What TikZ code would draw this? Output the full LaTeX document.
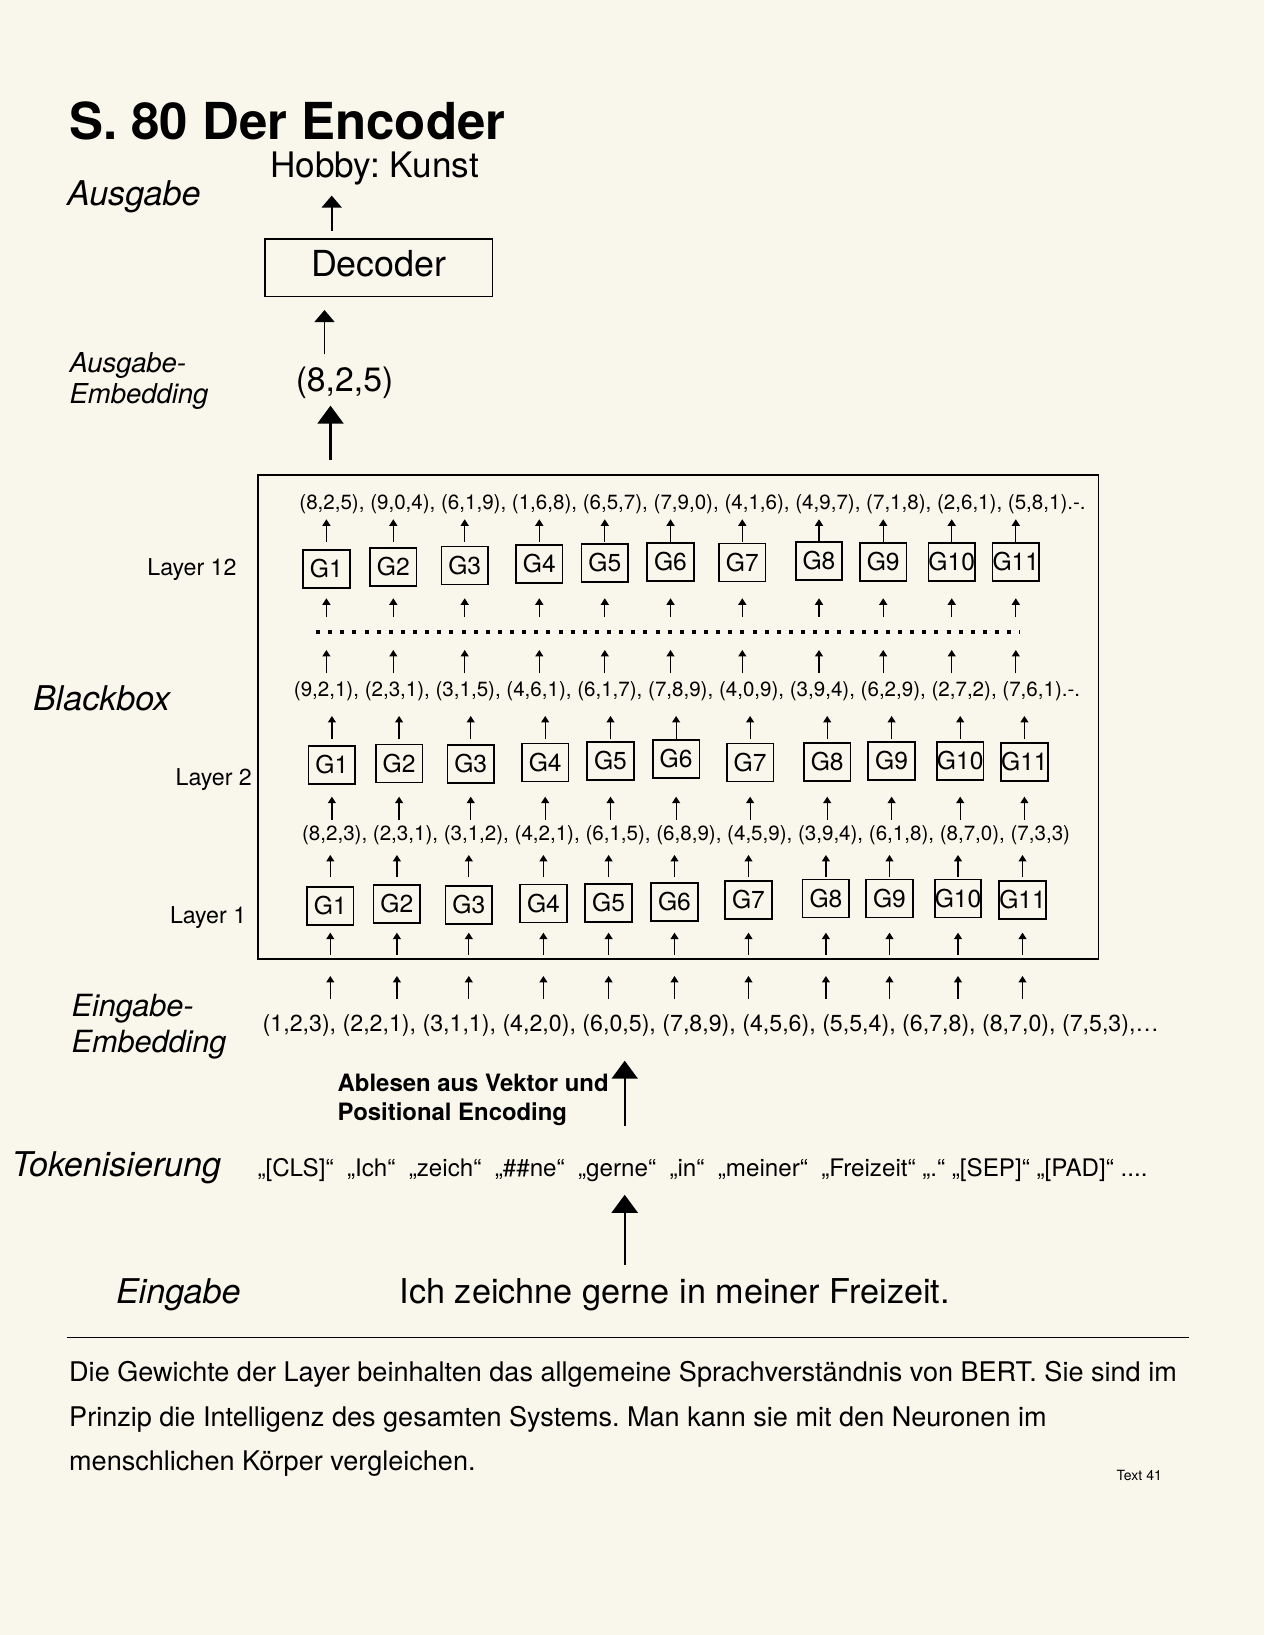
\documentclass[tikz,border=0pt]{standalone}
\usepackage{fontspec}
\setmainfont{TeX Gyre Heros}
\usepackage{tikz}
\usetikzlibrary{arrows.meta}
\definecolor{papier}{RGB}{249,247,236}
\frenchspacing

\begin{document}
\begin{tikzpicture}

			\tikzstyle{gewicht} = [draw,line width=0.5pt,minimum width=0.466cm,minimum height=0.38cm,inner sep=0,font=\fontsize{7}{8}\selectfont]
			\tikzstyle{tupel} = [anchor=west,inner sep=0,font=\fontsize{5.85}{7}\selectfont]
			\tikzstyle{etikett} = [anchor=west,inner sep=0,font=\fontsize{9.7}{11}\selectfont\itshape]
			\tikzstyle{schicht} = [anchor=west,inner sep=0,font=\fontsize{6.6}{8}\selectfont]
			\tikzstyle{pfeil} = [-{Triangle[width=0.8mm,length=0.65mm]},line width=0.35pt]
			\tikzstyle{pfeilmittel} = [-{Triangle[width=2mm,length=1.2mm]},line width=0.5pt]
			\tikzstyle{pfeilgross} = [-{Triangle[width=2.6mm,length=1.8mm]},line width=0.6pt]

			\useasboundingbox (0,0) rectangle (12.64,16.35);
			\fill[papier] (0,0) rectangle (12.64,16.35);

			% Kopf
			\node[anchor=base west,inner sep=0,font=\fontsize{14.5}{17}\selectfont\bfseries] (titel) at (0.685,14.95) {S. 80 Der Encoder};
			\node[inner sep=0,font=\fontsize{10}{12}\selectfont] (hobby) at (3.745,14.667) {Hobby: Kunst};
			\node[etikett] (ausgabe) at (0.665,14.383) {Ausgabe};
			\node[draw,line width=0.45pt,minimum width=2.275cm,minimum height=0.557cm,text depth=0.8mm,font=\fontsize{10.2}{12}\selectfont] (dec) at (3.788,13.672) {Decoder};
			\node[inner sep=0,font=\fontsize{9.6}{11}\selectfont] (k825) at (3.445,12.52) {(8,2,5)};
			\node[anchor=west,inner sep=0,align=left,font=\fontsize{7.8}{9}\selectfont\itshape] (ausemb) at (0.69,12.54) {Ausgabe-\\Embedding};

			\draw[pfeilmittel,shorten <=0.73mm,shorten >=1mm] (dec.north -| 3.317,0) -- (hobby.south -| 3.317,0);
			\draw[pfeilmittel,shorten <=1.2mm,shorten >=1.27mm] (k825.north -| 3.245,0) -- (dec.south -| 3.245,0);

			% Blackbox
			\node[draw,line width=0.45pt,minimum width=8.405cm,minimum height=4.84cm,inner sep=0] (rahmen) at (6.7825,9.18) {};
			\draw[pfeilgross,shorten <=1.4mm,shorten >=0.61mm] (rahmen.north -| 3.305,0) -- (k825.south -| 3.305,0);
			\node[etikett] (blackbox) at (0.323,9.367) {Blackbox};

			\node[schicht] (schicht12) at (1.467,10.657) {Layer 12};
			\node[schicht] (schicht2) at (1.75,8.557) {Layer 2};
			\node[schicht] (schicht1) at (1.693,7.173) {Layer 1};

			\node[tupel] (aus12) at (2.987,11.31) {(8,2,5), (9,0,4), (6,1,9), (1,6,8), (6,5,7), (7,9,0), (4,1,6), (4,9,7), (7,1,8), (2,6,1), (5,8,1).-.};
			\node[tupel] (aus2) at (2.932,9.433) {(9,2,1), (2,3,1), (3,1,5), (4,6,1), (6,1,7), (7,8,9), (4,0,9), (3,9,4), (6,2,9), (2,7,2), (7,6,1).-.};
			\node[tupel] (aus1) at (3.014,8.00) {(8,2,3), (2,3,1), (3,1,2), (4,2,1), (6,1,5), (6,8,9), (4,5,9), (3,9,4), (6,1,8), (8,7,0), (7,3,3)};

			\foreach \i/\x/\y in {1/3.264/10.661,2/3.933/10.68,3/4.647/10.695,4/5.393/10.71,5/6.048/10.72,6/6.705/10.73,7/7.423/10.725,8/8.19/10.74,9/8.832/10.73,10/9.517/10.73,11/10.158/10.73}
				\node[gewicht] (l12g\i) at (\x,\y) {\makebox[0pt]{G\i}};
			\foreach \i/\x/\y in {1/3.319/8.70,2/3.991/8.715,3/4.707/8.71,4/5.452/8.725,5/6.105/8.74,6/6.761/8.76,7/7.501/8.725,8/8.272/8.733,9/8.916/8.74,10/9.602/8.74,11/10.244/8.73}
				\node[gewicht] (l2g\i) at (\x,\y) {\makebox[0pt]{G\i}};
			\foreach \i/\x/\y in {1/3.303/7.29,2/3.969/7.31,3/4.688/7.30,4/5.434/7.315,5/6.086/7.32,6/6.745/7.33,7/7.485/7.35,8/8.259/7.365,9/8.895/7.365,10/9.58/7.365,11/10.225/7.35}
				\node[gewicht] (l1g\i) at (\x,\y) {\makebox[0pt]{G\i}};

			% Punktlinie zwischen Layer 2 und Layer 12
			\draw[line width=1.15pt,dash pattern=on 1.15pt off 2.3pt] (3.16,10.033) -- (10.2,10.033);

			\foreach \i in {1,...,11} {
				\draw[pfeil] (l12g\i |- 0,10.933) -- ++(0,0.224);
				\draw[pfeil] (l12g\i |- 0,10.183) -- ++(0,0.184);
				\draw[pfeil] (l12g\i |- 0,9.617) -- ++(0,0.233);
				\draw[pfeil] (l2g\i |- 0,8.957) -- ++(0,0.233);
				\draw[pfeil] (l2g\i |- 0,8.15) -- ++(0,0.233);
				\draw[pfeil] (l1g\i |- 0,7.577) -- ++(0,0.223);
				\draw[pfeil] (l1g\i |- 0,6.80) -- ++(0,0.223);
				\draw[pfeil] (l1g\i |- 0,6.36) -- ++(0,0.23);
			}

			% Eingabe
			\node[anchor=west,inner sep=0,align=left,font=\fontsize{8.7}{10.2}\selectfont\itshape] (einemb) at (0.71,6.08) {Eingabe-\\Embedding};
			\node[anchor=west,inner sep=0,font=\fontsize{6.6}{8}\selectfont] (emb) at (2.62,6.09) {(1,2,3), (2,2,1), (3,1,1), (4,2,0), (6,0,5), (7,8,9), (4,5,6), (5,5,4), (6,7,8), (8,7,0), (7,5,3),…};
			\node[anchor=west,inner sep=0,align=left,font=\fontsize{6.8}{8.45}\selectfont\bfseries] (ablesen) at (3.37,5.35) {Ablesen aus Vektor und\\Positional Encoding};
			\node[anchor=west,inner sep=0,font=\fontsize{6.88}{8}\selectfont] (tok) at (2.568,4.645) {„[CLS]“\ \ „Ich“\ \ „zeich“\ \ „\#\#ne“\ \ „gerne“\ \ „in“\ \ „meiner“\ \ „Freizeit“ „.“ „[SEP]“ „[PAD]“ ....};
			\node[etikett] (tokenisierung) at (0.11,4.667) {Tokenisierung};
			\node[etikett] (eingabe) at (1.153,3.40) {Eingabe};
			\node[anchor=west,inner sep=0,font=\fontsize{9.74}{11}\selectfont] (satz) at (3.99,3.40) {Ich zeichne gerne in meiner Freizeit.};

			\draw[pfeilgross,shorten <=3.23mm,shorten >=2.31mm] (tok.north -| 6.247,0) -- (emb.south -| 6.247,0);
			\draw[pfeilgross,shorten <=1.3mm,shorten >=1.19mm] (satz.north -| 6.247,0) -- (tok.south -| 6.247,0);

			% Fusszeile
			\draw[line width=0.25pt] (0.667,2.98) -- (11.89,2.98);
			\node[anchor=west,inner sep=0,align=left,font=\fontsize{7.7}{12.66}\selectfont] (text) at (0.685,2.16) {Die Gewichte der Layer beinhalten das allgemeine Sprachverständnis von BERT. Sie sind im\\Prinzip die Intelligenz des gesamten Systems. Man kann sie mit den Neuronen im\\menschlichen Körper vergleichen.};
			\node[anchor=west,inner sep=0,font=\fontsize{4}{5}\selectfont] (nummer) at (11.16,1.593) {Text 41};

		\end{tikzpicture}
\end{document}
